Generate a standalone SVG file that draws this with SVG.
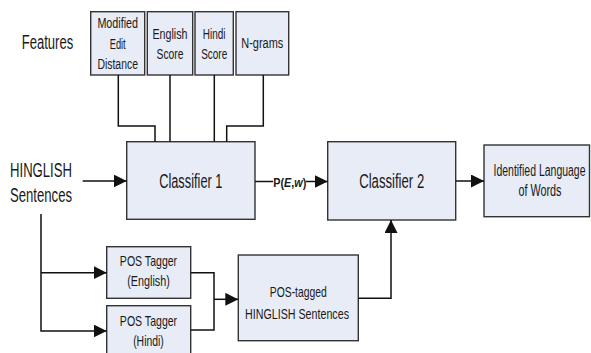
<svg xmlns="http://www.w3.org/2000/svg" width="591" height="353" viewBox="0 0 591 353">
  <style>
    .box { fill: #e7ecf6; stroke: #333333; stroke-width: 1.4; }
    .wire { fill: none; stroke: #111111; stroke-width: 1.5; }
    text { font-family: "Liberation Sans", Arial, sans-serif; fill: #1a1a1a; }
    .lbl { font-size: 20px; }
    .big { font-size: 20px; text-anchor: middle; }
    .feat { font-size: 14px; text-anchor: middle; }
    .mid { font-size: 15px; text-anchor: middle; }
    .out { font-size: 16px; text-anchor: middle; }
  </style>
  <defs>
    <marker id="arrow" markerUnits="userSpaceOnUse" markerWidth="13" markerHeight="14" refX="13" refY="6.5" orient="auto">
      <path d="M0,0 L13,6.5 L0,13 Z" fill="#111111"/>
    </marker>
  </defs>

  <rect width="591" height="353" fill="#ffffff"/>

  <!-- free labels -->
  <text class="lbl" x="21.7" y="49" textLength="51.6" lengthAdjust="spacingAndGlyphs">Features</text>
  <g id="input">
    <text class="lbl" x="10" y="176.5" textLength="62" lengthAdjust="spacingAndGlyphs">HINGLISH</text>
    <text class="lbl" x="10" y="201.5" textLength="62" lengthAdjust="spacingAndGlyphs">Sentences</text>
  </g>

  <!-- feature boxes -->
  <g id="feat-med">
    <rect class="box" x="90.7" y="11.7" width="54" height="63.3"/>
    <text class="feat" x="117.7" y="28" textLength="40.6" lengthAdjust="spacingAndGlyphs">Modified</text>
    <text class="feat" x="117.7" y="48.5" textLength="16" lengthAdjust="spacingAndGlyphs">Edit</text>
    <text class="feat" x="117.7" y="69" textLength="40.6" lengthAdjust="spacingAndGlyphs">Distance</text>
  </g>
  <g id="feat-english">
    <rect class="box" x="147.3" y="11.7" width="45.4" height="63.3"/>
    <text class="feat" x="170" y="38.5" textLength="35" lengthAdjust="spacingAndGlyphs">English</text>
    <text class="feat" x="170" y="59" textLength="27" lengthAdjust="spacingAndGlyphs">Score</text>
  </g>
  <g id="feat-hindi">
    <rect class="box" x="195" y="11.7" width="38.3" height="63.3"/>
    <text class="feat" x="214.2" y="38.5" textLength="22.7" lengthAdjust="spacingAndGlyphs">Hindi</text>
    <text class="feat" x="214.2" y="59" textLength="26" lengthAdjust="spacingAndGlyphs">Score</text>
  </g>
  <g id="feat-ngrams">
    <rect class="box" x="236" y="11.7" width="52.7" height="63.3"/>
    <text class="feat" x="262.3" y="48" textLength="42" lengthAdjust="spacingAndGlyphs">N-grams</text>
  </g>

  <!-- classifiers -->
  <g id="classifier1">
    <rect class="box" x="126.7" y="141.7" width="128.3" height="77.6"/>
    <text class="big" x="190.8" y="187.5" textLength="63.3" lengthAdjust="spacingAndGlyphs">Classifier 1</text>
  </g>
  <g id="classifier2">
    <rect class="box" x="327.7" y="141.7" width="128" height="78.3"/>
    <text class="big" x="391.7" y="187.5" textLength="65" lengthAdjust="spacingAndGlyphs">Classifier 2</text>
  </g>
  <g id="output">
    <rect class="box" x="484" y="145" width="105.5" height="71.7"/>
    <text class="out" x="539.5" y="175.5" textLength="92" lengthAdjust="spacingAndGlyphs">Identified Language</text>
    <text class="out" x="540" y="196" textLength="43" lengthAdjust="spacingAndGlyphs">of Words</text>
  </g>

  <!-- taggers -->
  <g id="tagger-english">
    <rect class="box" x="106.7" y="246.7" width="84" height="51.6"/>
    <text class="mid" x="148.5" y="266" textLength="57.3" lengthAdjust="spacingAndGlyphs">POS Tagger</text>
    <text class="mid" x="148.5" y="286" textLength="42.6" lengthAdjust="spacingAndGlyphs">(English)</text>
  </g>
  <g id="tagger-hindi">
    <rect class="box" x="106.7" y="305.7" width="84" height="50"/>
    <text class="mid" x="148.5" y="326" textLength="57.3" lengthAdjust="spacingAndGlyphs">POS Tagger</text>
    <text class="mid" x="148.5" y="346" textLength="30.7" lengthAdjust="spacingAndGlyphs">(Hindi)</text>
  </g>
  <g id="tagged">
    <rect class="box" x="238.3" y="255" width="120" height="85.7"/>
    <text class="mid" x="298.3" y="297" textLength="57" lengthAdjust="spacingAndGlyphs">POS-tagged</text>
    <text class="mid" x="297" y="318.5" textLength="104" lengthAdjust="spacingAndGlyphs">HINGLISH Sentences</text>
  </g>

  <!-- connectors -->
  <g id="connectors">
    <polyline class="wire" points="118.3,75 118.3,126 155,126 155,141.7"/>
    <line class="wire" x1="170" y1="75" x2="170" y2="141.7"/>
    <line class="wire" x1="214.3" y1="75" x2="214.3" y2="141.7"/>
    <polyline class="wire" points="263.3,75 263.3,126 226.7,126 226.7,141.7"/>

    <line class="wire" x1="82.7" y1="181" x2="126.7" y2="181" marker-end="url(#arrow)"/>
    <line class="wire" x1="255" y1="181.5" x2="273" y2="181.5"/>
    <line class="wire" x1="306" y1="181.5" x2="327.7" y2="181.5" marker-end="url(#arrow)"/>
    <line class="wire" x1="455.7" y1="181" x2="484" y2="181" marker-end="url(#arrow)"/>

    <polyline class="wire" points="41,214 41,331 106.7,331" marker-end="url(#arrow)"/>
    <line class="wire" x1="41" y1="272.7" x2="106.7" y2="272.7" marker-end="url(#arrow)"/>

    <polyline class="wire" points="190.7,272.7 214,272.7 214,330 190.7,330"/>
    <line class="wire" x1="214" y1="299.3" x2="238.3" y2="299.3" marker-end="url(#arrow)"/>

    <polyline class="wire" points="358.3,298.3 391,298.3 391,220" marker-end="url(#arrow)"/>

    <text transform="translate(273.3,187) scale(0.8,1)" font-size="13.5" font-weight="bold">P(<tspan font-style="italic">E</tspan>,<tspan font-style="italic">w</tspan>)</text>
  </g>
</svg>
